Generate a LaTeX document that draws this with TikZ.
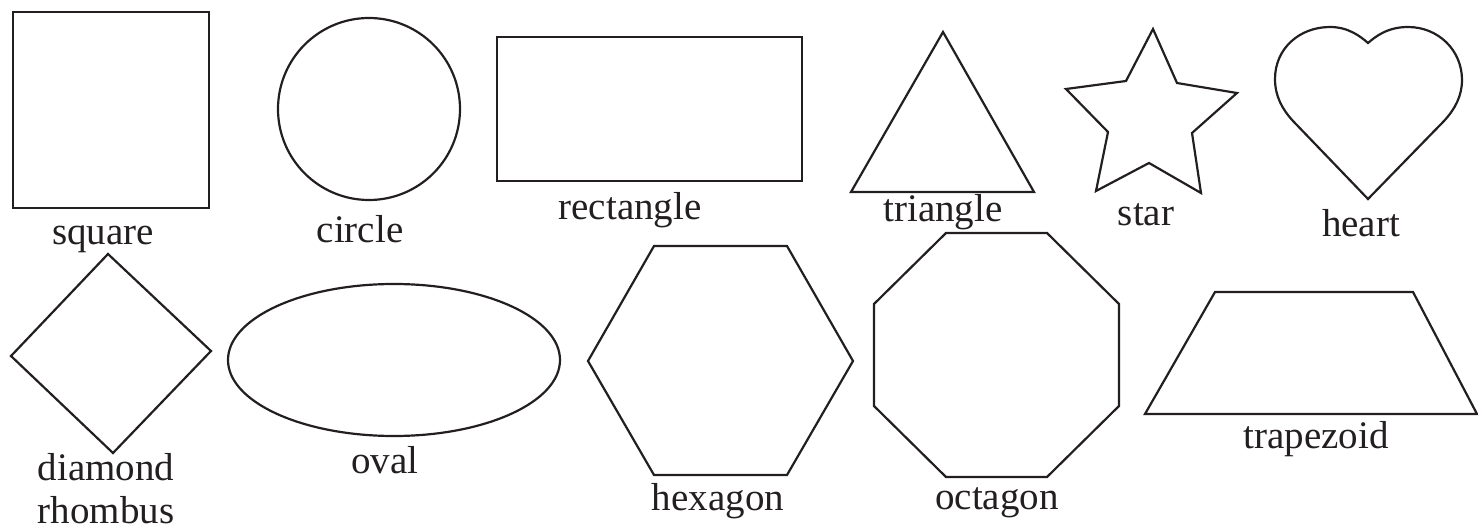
\documentclass[tikz,border=0pt]{standalone}
\usepackage{fontspec}
\setmainfont{Liberation Serif}
\definecolor{ink}{RGB}{35,31,32}

\begin{document}
\begin{tikzpicture}[x=1pt, y=-1pt, every node/.style={font=\fontsize{39}{44}\selectfont, text=ink, anchor=base, inner sep=0pt}, shp/.style={draw=ink, line width=2.2pt, line join=miter}]
	\useasboundingbox (0,0) rectangle (1478,529);
	% top row
	\draw[shp] (13,12) rectangle (209,208);
	\node (lsquare) at (103,245) {square};
	\draw[shp] (369,109) circle (91pt);
	\node (lcircle) at (360,243) {circle};
	\draw[shp] (497,37) rectangle (802,181);
	\node (lrect) at (630,220) {rectangle};
	\draw[shp] (943,32) -- (1034,192) -- (851,192) -- cycle;
	\node (ltri) at (943,222) {triangle};
	\draw[shp] (1153,29) -- (1177,83) -- (1237,93) -- (1192,133) -- (1201,193) -- (1149,163) -- (1096,191) -- (1108,132) -- (1066,89) -- (1126,81) -- cycle;
	\node (lstar) at (1146,226) {star};
	\draw[shp] (1368,199) -- (1293,121) .. controls (1282,109) and (1275,96) .. (1275,79) .. controls (1275,48) and (1300,27) .. (1330,27) .. controls (1348,27) and (1360,36) .. (1368,43) .. controls (1376,36) and (1388,27) .. (1408,27) .. controls (1438,27) and (1462,50) .. (1462,80) .. controls (1462,96) and (1455,109) .. (1444,121) -- cycle;
	\node (lheart) at (1361,237) {heart};
	% bottom row
	\draw[shp] (108,254) -- (211,351) -- (113,453) -- (11,356) -- cycle;
	\node (ldiam) at (106,480) {diamond};
	\node (lrhomb) at (106,523) {rhombus};
	\draw[shp] (394,360) ellipse [x radius=166pt, y radius=76pt];
	\node (loval) at (385,473) {oval};
	\draw[shp] (588,361) -- (654,246) -- (787,246) -- (853,361) -- (787,475) -- (654,475) -- cycle;
	\node (lhex) at (718,510) {hexagon};
	\draw[shp] (946,233) -- (1047,233) -- (1119,304) -- (1119,406) -- (1047,477) -- (946,477) -- (874,406) -- (874,304) -- cycle;
	\node (loct) at (997,509) {octagon};
	\draw[shp] (1215,292) -- (1413,292) -- (1477,414) -- (1145,414) -- cycle;
	\node (ltrap) at (1316,448) {trapezoid};
\end{tikzpicture}
\end{document}
